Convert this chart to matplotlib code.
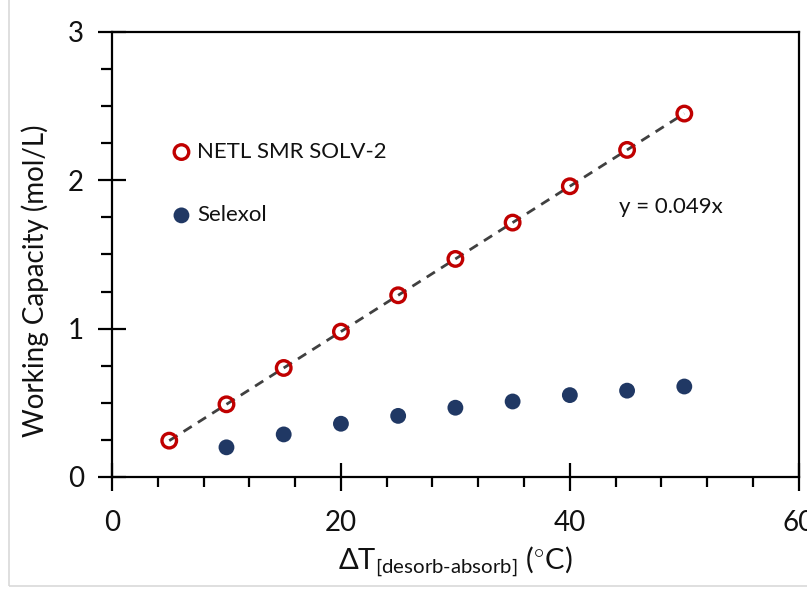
import matplotlib
matplotlib.use("Agg")
import matplotlib.pyplot as plt
from matplotlib.patches import Rectangle
from matplotlib.ticker import MultipleLocator

# data
delta_t_solv = [5, 10, 15, 20, 25, 30, 35, 40, 45, 50]
cap_solv = [0.245, 0.49, 0.735, 0.98, 1.225, 1.47, 1.715, 1.96, 2.205, 2.45]
delta_t_selexol = [10, 15, 20, 25, 30, 35, 40, 45, 50]
cap_selexol = [0.20, 0.287, 0.359, 0.412, 0.467, 0.509, 0.552, 0.582, 0.61]
slope = 0.049
fit_x = [5, 50]

plt.rcParams['font.family'] = ['Lato', 'DejaVu Sans']
plt.rcParams['mathtext.fontset'] = 'custom'
plt.rcParams['mathtext.rm'] = 'Lato'
plt.rcParams['mathtext.it'] = 'Lato:italic'

txt = '#111111'
fig = plt.figure(figsize=(8.07, 5.91), dpi=100)
ax = fig.add_axes([0.1388, 0.1929, 0.851, 0.753])

# faint border of the exported chart area
fig.patches.append(Rectangle((9 / 807, 5 / 591), 1.0, 1.0, transform=fig.transFigure,
                             fill=False, edgecolor='#d9d9d9', linewidth=1.2))

ax.plot(fit_x, [slope * x for x in fit_x], color='#404040', linewidth=2.0,
        linestyle=(0, (3.5, 2.6)), zorder=2)
ax.scatter(delta_t_solv, cap_solv, s=110, facecolors='none', edgecolors='#c00000',
           linewidths=2.4, zorder=3, label='NETL SMR SOLV-2')
ax.scatter(delta_t_selexol, cap_selexol, s=130, color='#203864', edgecolors='none',
           zorder=3, label='Selexol')

ax.text(44.3, 1.82, 'y = 0.049x', fontsize=16, color=txt, va='center')

ax.set_xlim(0, 60)
ax.set_ylim(0, 3)
ax.xaxis.set_major_locator(MultipleLocator(20))
ax.xaxis.set_minor_locator(MultipleLocator(4))
ax.yaxis.set_major_locator(MultipleLocator(1))
ax.yaxis.set_minor_locator(MultipleLocator(0.25))

for s in ax.spines.values():
    s.set_linewidth(1.6)
ax.tick_params(which='major', direction='inout', length=20, width=1.6,
               labelsize=20, colors='black')
ax.tick_params(axis='x', which='major', pad=14)
ax.tick_params(axis='y', which='major', pad=10)
ax.tick_params(which='minor', direction='out', length=8, width=1.6)
ax.tick_params(axis='x', which='minor', length=7)
ax.tick_params(top=False, right=False, which='both')
ax.tick_params(axis='both', labelcolor=txt)

ax.set_ylabel('Working Capacity (mol/L)', fontsize=20, color=txt)
ax.yaxis.set_label_coords(-0.092, 0.44)
ax.set_xlabel(r'$\Delta$T$_{\mathrm{[desorb\text{-}absorb]}}$ ($^{\circ}$C)',
              fontsize=21, color=txt, labelpad=6)

leg = ax.legend(loc='upper left', bbox_to_anchor=(0.072, 0.773), frameon=False,
                fontsize=16, handlelength=1.0, handletextpad=0.2,
                labelspacing=1.95, borderaxespad=0)
for t in leg.get_texts():
    t.set_color(txt)

fig.savefig('out.png', dpi=100)
